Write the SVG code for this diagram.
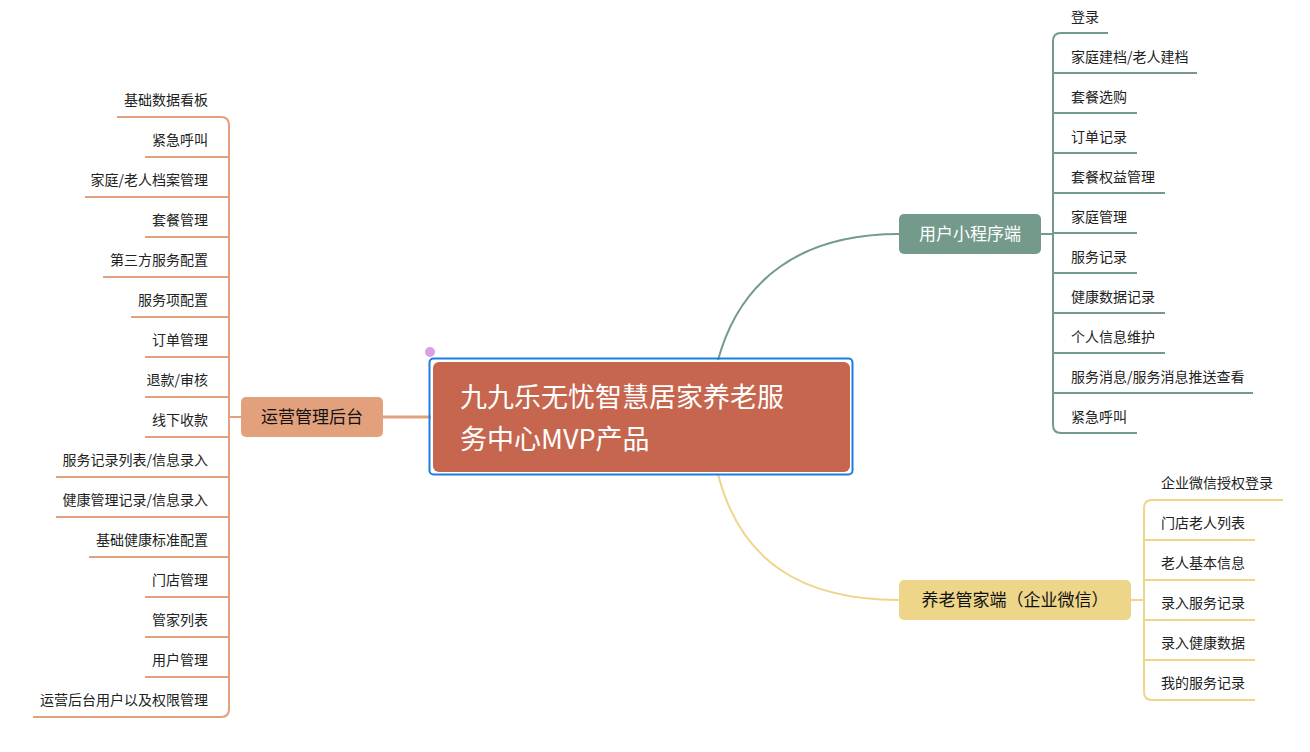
<svg xmlns="http://www.w3.org/2000/svg" width="1310" height="752" viewBox="0 0 1310 752">
<style>
text{font-family:"Noto Sans CJK SC","Liberation Sans",sans-serif;}
.leaf{font-size:14px;fill:#222;}
.lr{text-anchor:end;}
.g{stroke:#739A8A;stroke-width:2;fill:none;}
.o{stroke:#E3A07C;stroke-width:2;fill:none;}
.y{stroke:#EDD68A;stroke-width:2;fill:none;}
.sub{font-size:17px;}
</style>
<rect width="1310" height="752" fill="#fff"/>
<g id="connectors">
<path class="g" d="M718 360 C740 280 800 234 899 234"/>
<path class="y" d="M718 474 C740 560 800 600 899 600"/>
<path class="o" style="stroke-width:3" d="M383 417 H431"/>
<!-- right green -->
<path class="g" d="M1041 234 H1053"/>
<path class="g" d="M1108 33 H1061 Q1053 33 1053 41 V425 Q1053 433 1061 433 H1137"/>
<path class="g" d="M1053 73 H1197 M1053 113 H1137 M1053 153 H1137 M1053 193 H1165 M1053 233 H1137 M1053 273 H1137 M1053 313 H1165 M1053 353 H1165 M1053 393 H1253"/>
<!-- left orange -->
<path class="o" d="M383 417 H229"/>
<path class="o" d="M117 117 H221 Q229 117 229 125 V709 Q229 717 221 717 H33"/>
<path class="o" d="M145 157 H229 M85 197 H229 M145 237 H229 M103 277 H229 M131 317 H229 M145 357 H229 M145 397 H229 M145 437 H229 M56 477 H229 M56 517 H229 M89 557 H229 M145 597 H229 M145 637 H229 M145 677 H229"/>
<!-- bottom right yellow -->
<path class="y" d="M1131 600 H1144"/>
<path class="y" d="M1283 500 H1152 Q1144 500 1144 508 V692 Q1144 700 1152 700 H1255"/>
<path class="y" d="M1144 540 H1255 M1144 580 H1255 M1144 620 H1255 M1144 660 H1255"/>
</g>
<g id="center">
<rect x="429.5" y="358.5" width="423" height="116" rx="4" fill="none" stroke="#1a7ee0" stroke-width="2"/>
<rect x="433" y="362" width="417" height="110" rx="6" fill="#C6664F"/>
<text x="460" y="407" font-size="27" fill="#fff">九九乐无忧智慧居家养老服</text>
<text x="460" y="449" font-size="27" fill="#fff">务中心MVP产品</text>
<circle cx="430" cy="352" r="5" fill="#d9a0e8"/>
</g>
<g id="node-user">
<rect x="899" y="214" width="142" height="40" rx="5" fill="#739A8A"/>
<text x="970" y="240" class="sub" fill="#fff" text-anchor="middle">用户小程序端</text>
</g>
<g id="node-admin">
<rect x="241" y="397" width="142" height="40" rx="5" fill="#E3A07C"/>
<text x="312" y="423" class="sub" fill="#111" text-anchor="middle">运营管理后台</text>
</g>
<g id="node-steward">
<rect x="899" y="580" width="232" height="40" rx="5" fill="#EDD68A"/>
<text x="1015" y="606" class="sub" fill="#111" text-anchor="middle">养老管家端（企业微信）</text>
</g>
<g id="leaves-user" class="leaf">
<text x="1071" y="22">登录</text>
<text x="1071" y="62">家庭建档/老人建档</text>
<text x="1071" y="102">套餐选购</text>
<text x="1071" y="142">订单记录</text>
<text x="1071" y="182">套餐权益管理</text>
<text x="1071" y="222">家庭管理</text>
<text x="1071" y="262">服务记录</text>
<text x="1071" y="302">健康数据记录</text>
<text x="1071" y="342">个人信息维护</text>
<text x="1071" y="382">服务消息/服务消息推送查看</text>
<text x="1071" y="422">紧急呼叫</text>
</g>
<g id="leaves-admin" class="leaf lr">
<text x="208" y="105">基础数据看板</text>
<text x="208" y="145">紧急呼叫</text>
<text x="208" y="185">家庭/老人档案管理</text>
<text x="208" y="225">套餐管理</text>
<text x="208" y="265">第三方服务配置</text>
<text x="208" y="305">服务项配置</text>
<text x="208" y="345">订单管理</text>
<text x="208" y="385">退款/审核</text>
<text x="208" y="425">线下收款</text>
<text x="208" y="465">服务记录列表/信息录入</text>
<text x="208" y="505">健康管理记录/信息录入</text>
<text x="208" y="545">基础健康标准配置</text>
<text x="208" y="585">门店管理</text>
<text x="208" y="625">管家列表</text>
<text x="208" y="665">用户管理</text>
<text x="208" y="705">运营后台用户以及权限管理</text>
</g>
<g id="leaves-steward" class="leaf">
<text x="1161" y="488">企业微信授权登录</text>
<text x="1161" y="528">门店老人列表</text>
<text x="1161" y="568">老人基本信息</text>
<text x="1161" y="608">录入服务记录</text>
<text x="1161" y="648">录入健康数据</text>
<text x="1161" y="688">我的服务记录</text>
</g>
</svg>
